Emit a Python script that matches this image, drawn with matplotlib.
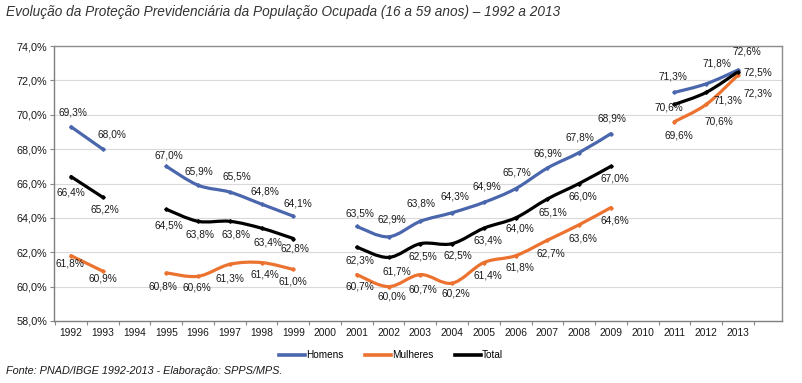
import matplotlib
matplotlib.use("Agg")
import matplotlib.pyplot as plt
from matplotlib.path import Path
from matplotlib.patches import PathPatch
from matplotlib.lines import Line2D
import numpy as np

years = [str(y) for y in range(1992, 2014)]
homens = [69.3, 68.0, None, 67.0, 65.9, 65.5, 64.8, 64.1, None, 63.5, 62.9, 63.8,
          64.3, 64.9, 65.7, 66.9, 67.8, 68.9, None, 71.3, 71.8, 72.6]
mulheres = [61.8, 60.9, None, 60.8, 60.6, 61.3, 61.4, 61.0, None, 60.7, 60.0, 60.7,
            60.2, 61.4, 61.8, 62.7, 63.6, 64.6, None, 69.6, 70.6, 72.3]
total = [66.4, 65.2, None, 64.5, 63.8, 63.8, 63.4, 62.8, None, 62.3, 61.7, 62.5,
         62.5, 63.4, 64.0, 65.1, 66.0, 67.0, None, 70.6, 71.3, 72.5]
series_names = ["Homens", "Mulheres", "Total"]
yticks = [58, 60, 62, 64, 66, 68, 70, 72, 74]

colors = {"Homens": "#4a66ad", "Mulheres": "#ec7230", "Total": "#000000"}

# label offsets in pixels (dx, dy); dy positive = up
off_h = [(2, 14), (9, 15), None, (3, 11), (1, 14), (7, 16), (3, 13), (5, 13), None,
         (3, 13), (3, 17), (1, 18), (3, 16), (3, 16), (1, 16), (0, 15), (1, 15), (1, 15),
         None, (-1, 16), (11, 20), (9, 19)]
off_m = [(-1, -8), (0, -7), None, (-3, -14), (-1, -11), (0, -14), (3, -12), (0, -12), None,
         (3, -12), (3, -10), (3, -15), (4, -10), (4, -13), (4, -12), (3, -13), (4, -14),
         (4, -13), None, (4, -14), (13, -17), (20, -18)]
off_t = [(0, -16), (2, -12), None, (3, -16), (2, -13), (6, -13), (6, -14), (2, -10), None,
         (3, -13), (8, -14), (3, -13), (6, -12), (4, -12), (4, -11), (5, -14), (4, -13),
         (4, -12), None, (-6, -3), (22, -8), (20, -1)]

W, H = 802, 383
fig = plt.figure(figsize=(W / 100, H / 100), dpi=100)
plt.rcParams['font.family'] = ['Liberation Sans', 'DejaVu Sans']

ax_left, ax_right, ax_top, ax_bottom = 54, 782, 46, 321
ax = fig.add_axes([ax_left / W, 1 - ax_bottom / H, (ax_right - ax_left) / W,
                   (ax_bottom - ax_top) / H])

x = np.arange(len(years))
step_px = 31.76
x0_px = 71
ax.set_xlim((ax_left - x0_px) / step_px, (ax_right - x0_px) / step_px)
ax.set_ylim(58, 74)


def smooth_segments(vals):
    segs, cur = [], []
    for i, v in enumerate(vals):
        if v is None:
            if cur:
                segs.append(cur)
            cur = []
        else:
            cur.append((i, v))
    if cur:
        segs.append(cur)
    return segs


def bezier_path(pts):
    pts = np.array(pts, dtype=float)
    n = len(pts)
    verts = [pts[0]]
    codes = [Path.MOVETO]
    for i in range(n - 1):
        p0 = pts[i - 1] if i > 0 else pts[i]
        p1 = pts[i]
        p2 = pts[i + 1]
        p3 = pts[i + 2] if i + 2 < n else pts[i + 1]
        c1 = p1 + (p2 - p0) / 6.0
        c2 = p2 - (p3 - p1) / 6.0
        verts += [c1, c2, p2]
        codes += [Path.CURVE4] * 3
    return Path(verts, codes)


for yv in yticks[1:]:
    ax.axhline(yv, color="#d9d9d9", lw=0.8, zorder=0)

data = {"Homens": (homens, off_h), "Mulheres": (mulheres, off_m), "Total": (total, off_t)}
for name in series_names:
    vals, offs = data[name]
    for seg in smooth_segments(vals):
        p = bezier_path(seg)
        ax.add_patch(PathPatch(p, facecolor="none", edgecolor=colors[name], lw=2.3,
                               capstyle="round", joinstyle="round", zorder=3))
        xs = [s[0] for s in seg]
        ys = [s[1] for s in seg]
        ax.plot(xs, ys, ls="none", marker="D", ms=1.8, color=colors[name], zorder=4)

for name in series_names:
    vals, offs = data[name]
    for i, v in enumerate(vals):
        if v is None:
            continue
        dx, dy = offs[i]
        ax.annotate(f"{v:.1f}%".replace(".", ","), (i, v),
                    xytext=(dx * 0.72, dy * 0.72), textcoords="offset points",
                    ha="center", va="center", fontsize=7.3, color="#1a1a1a", zorder=5)

ax.set_yticks(yticks)
ax.set_yticklabels([f"{v:.1f}%".replace(".", ",") for v in yticks], fontsize=7.8,
                   color="#1a1a1a")
ax.set_xticks(x)
ax.set_xticklabels(years, fontsize=7.4, color="#1a1a1a")
ax.set_xticks(np.arange(-0.5, len(years), 1.0), minor=True)
ax.tick_params(axis="x", which="major", length=0, pad=5)
ax.tick_params(axis="x", which="minor", length=3, color="#888888", width=0.8)
ax.tick_params(axis="y", length=3, color="#888888", width=0.8, pad=2)

for s in ["top", "right"]:
    ax.spines[s].set_color("#8c8c8c")
    ax.spines[s].set_linewidth(1.0)
ax.spines["left"].set_color("#7f7f7f")
ax.spines["left"].set_linewidth(1.0)
ax.spines["bottom"].set_color("#7f7f7f")
ax.spines["bottom"].set_linewidth(1.0)

fig.text(6 / W, 1 - 12 / H, "Evolução da Proteção Previdenciária da População Ocupada (16 a 59 anos) – 1992 a 2013",
         fontsize=9.8, style="italic", color="#333333", ha="left", va="center")
fig.text(6 / W, 1 - 371 / H, "Fonte: PNAD/IBGE 1992-2013 - Elaboração: SPPS/MPS.",
         fontsize=7.8, style="italic", color="#1a1a1a", ha="left", va="center",
         family=['Liberation Sans Narrow', 'Liberation Sans', 'DejaVu Sans'])

handles = [Line2D([], [], color=colors[n], lw=2.6) for n in series_names]
leg = fig.legend(handles, series_names, loc="center", bbox_to_anchor=(391 / W, 1 - 355 / H),
                 ncol=3, frameon=False, handlelength=2.6, handletextpad=0.1,
                 columnspacing=2.2,
                 prop={"size": 7.2, "family": ['Liberation Sans Narrow', 'Liberation Sans', 'DejaVu Sans']})

fig.savefig("out.png", dpi=100)
